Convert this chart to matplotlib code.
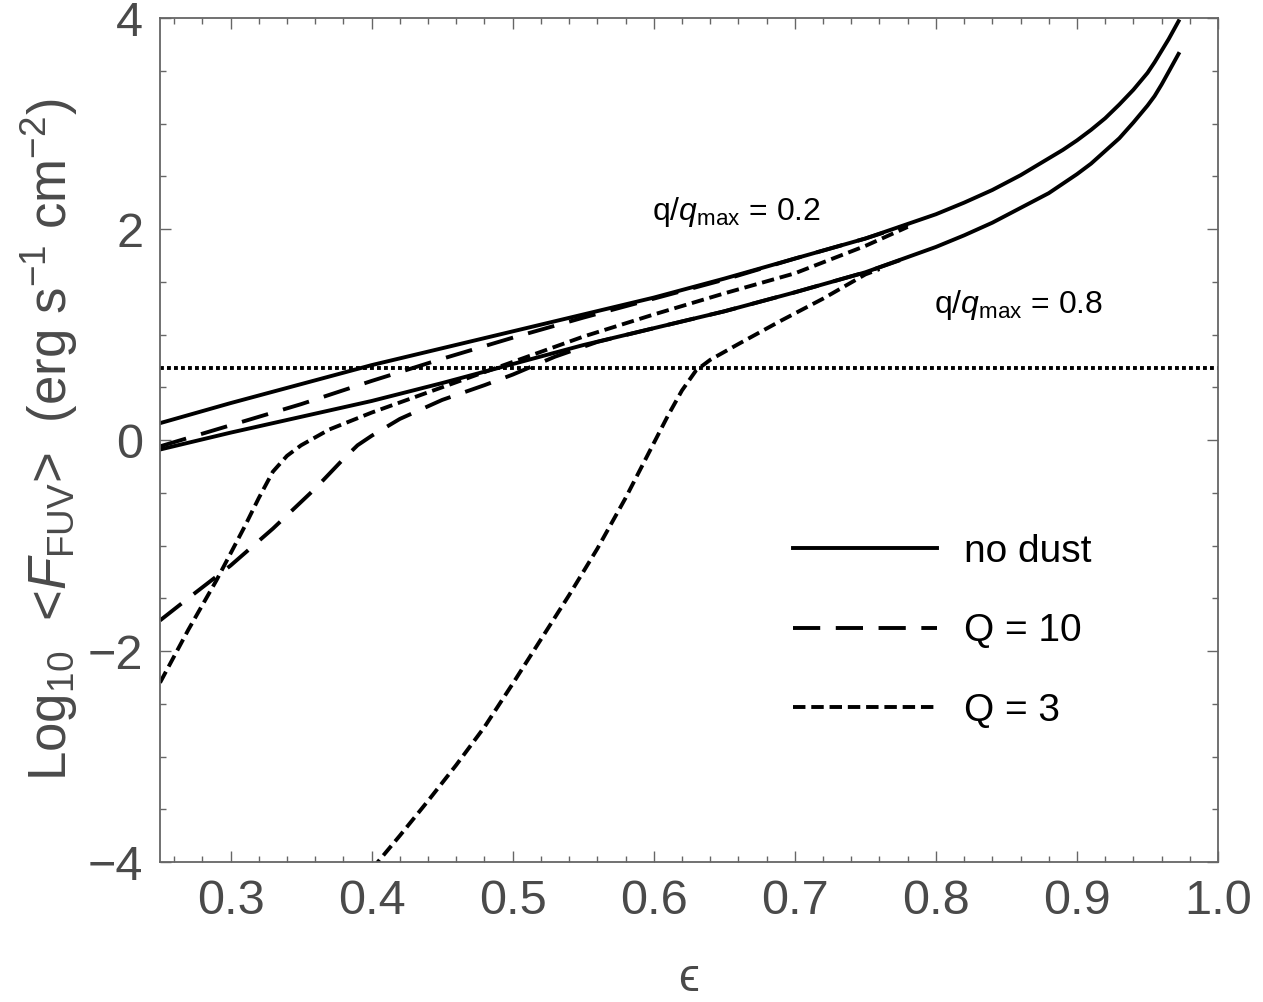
import matplotlib
matplotlib.use("Agg")
import matplotlib.pyplot as plt
from matplotlib.ticker import MultipleLocator

plt.rcParams['font.family'] = ['Liberation Sans', 'DejaVu Sans']
plt.rcParams['mathtext.fontset'] = 'custom'
plt.rcParams['mathtext.rm'] = 'Liberation Sans'
plt.rcParams['mathtext.it'] = 'Liberation Sans:italic'
plt.rcParams['axes.unicode_minus'] = True

# no dust, q/qmax = 0.2
x_nd_02 = [0.25, 0.30, 0.35, 0.40, 0.45, 0.50, 0.55, 0.60, 0.65, 0.70, 0.75,
           0.80, 0.82, 0.84, 0.86, 0.88, 0.89, 0.90, 0.91, 0.92, 0.93, 0.94,
           0.95, 0.955, 0.96, 0.965, 0.972]
y_nd_02 = [0.16, 0.35, 0.53, 0.71, 0.87, 1.03, 1.19, 1.35, 1.53, 1.72, 1.91,
           2.14, 2.25, 2.37, 2.51, 2.67, 2.75, 2.84, 2.94, 3.05, 3.18, 3.32,
           3.48, 3.58, 3.69, 3.80, 3.97]
# no dust, q/qmax = 0.8
x_nd_08 = [0.25, 0.30, 0.35, 0.40, 0.45, 0.50, 0.55, 0.60, 0.65, 0.70, 0.75,
           0.80, 0.82, 0.84, 0.86, 0.88, 0.89, 0.90, 0.91, 0.92, 0.93, 0.94,
           0.95, 0.955, 0.96, 0.965, 0.972]
y_nd_08 = [-0.09, 0.07, 0.22, 0.37, 0.54, 0.72, 0.90, 1.06, 1.22, 1.40, 1.59,
           1.83, 1.94, 2.06, 2.20, 2.34, 2.43, 2.52, 2.62, 2.74, 2.86, 3.01,
           3.17, 3.26, 3.37, 3.49, 3.66]
# Q = 10
x_q10_02 = [0.25, 0.30, 0.35, 0.40, 0.45, 0.50, 0.55, 0.60, 0.65, 0.70, 0.75, 0.78]
y_q10_02 = [-0.06, 0.14, 0.34, 0.56, 0.77, 0.97, 1.16, 1.34, 1.52, 1.72, 1.91, 2.04]
x_q10_08 = [0.25, 0.27, 0.30, 0.33, 0.36, 0.38, 0.39, 0.40, 0.42, 0.45, 0.48,
            0.50, 0.53, 0.56, 0.60, 0.65, 0.70, 0.75, 0.78]
y_q10_08 = [-1.71, -1.50, -1.19, -0.84, -0.46, -0.18, -0.05, 0.04, 0.20, 0.38, 0.52,
            0.62, 0.79, 0.93, 1.06, 1.22, 1.40, 1.59, 1.73]
# Q = 3
x_q3_02 = [0.25, 0.27, 0.29, 0.31, 0.32, 0.33, 0.34, 0.35, 0.37, 0.40, 0.45,
           0.50, 0.55, 0.60, 0.65, 0.70, 0.75, 0.78]
y_q3_02 = [-2.30, -1.80, -1.33, -0.82, -0.55, -0.30, -0.15, -0.05, 0.10, 0.26, 0.50,
           0.74, 0.98, 1.19, 1.39, 1.58, 1.84, 2.02]
x_q3_08 = [0.40, 0.42, 0.44, 0.46, 0.48, 0.50, 0.52, 0.54, 0.56, 0.58, 0.60,
           0.61, 0.62, 0.63, 0.64, 0.66, 0.69, 0.72, 0.75, 0.76]
y_q3_08 = [-4.07, -3.75, -3.42, -3.08, -2.72, -2.31, -1.89, -1.47, -1.03, -0.55, -0.03,
           0.23, 0.47, 0.66, 0.76, 0.91, 1.13, 1.34, 1.57, 1.62]

threshold = 0.68
labels = ['no dust', 'Q = 10', 'Q = 3']

lw = 2.8
long_dash = (7, 4)
short_dash = (3.2, 1.5)
gray = '#4a4a4a'

fig = plt.figure(figsize=(12.63, 10.02), dpi=100)
ax = fig.add_axes([0.1267, 0.1397, 0.8377, 0.8423])

l1, = ax.plot(x_nd_02, y_nd_02, color='black', lw=lw, label=labels[0])
ax.plot(x_nd_08, y_nd_08, color='black', lw=lw)
l2, = ax.plot(x_q10_02, y_q10_02, color='black', lw=lw, dashes=long_dash, label=labels[1])
ax.plot(x_q10_08, y_q10_08, color='black', lw=lw, dashes=long_dash)
l3, = ax.plot(x_q3_02, y_q3_02, color='black', lw=lw, dashes=short_dash, label=labels[2])
ax.plot(x_q3_08, y_q3_08, color='black', lw=lw, dashes=short_dash)
ax.axhline(threshold, color='black', lw=lw, dashes=(1, 0.8))

ax.set_xlim(0.25, 1.0)
ax.set_ylim(-4, 4)
ax.xaxis.set_major_locator(MultipleLocator(0.1))
ax.xaxis.set_minor_locator(MultipleLocator(0.02))
ax.yaxis.set_major_locator(MultipleLocator(2))
ax.yaxis.set_minor_locator(MultipleLocator(0.5))
ax.tick_params(which='both', direction='in', top=True, right=True,
               color='#666666', width=1.0, labelsize=35, labelcolor=gray)
ax.tick_params(which='major', length=8, pad=12)
ax.tick_params(which='minor', length=4.5)
for s in ax.spines.values():
    s.set_color('#666666')
    s.set_linewidth(1.3)

ax.set_xlabel('ϵ', fontsize=34, color=gray, labelpad=24)
ax.set_ylabel(r'Log$_{10}$  <$F_{\mathrm{FUV}}$>  (erg s$^{-1}$ cm$^{-2}$)',
              fontsize=38, color=gray, labelpad=6)

ax.text(0.599, 2.16, r'q/$q_{\mathrm{max}}$ = 0.2', fontsize=23, ha='left', va='center')
ax.text(0.799, 1.28, r'q/$q_{\mathrm{max}}$ = 0.8', fontsize=23, ha='left', va='center')

ax.legend(handles=[l1, l2, l3], loc='upper left', bbox_to_anchor=(0.598, 0.389),
          frameon=False, fontsize=28, handlelength=3.7, handletextpad=0.7,
          labelspacing=1.12, borderpad=0, borderaxespad=0)

fig.savefig('out.png', dpi=100)
